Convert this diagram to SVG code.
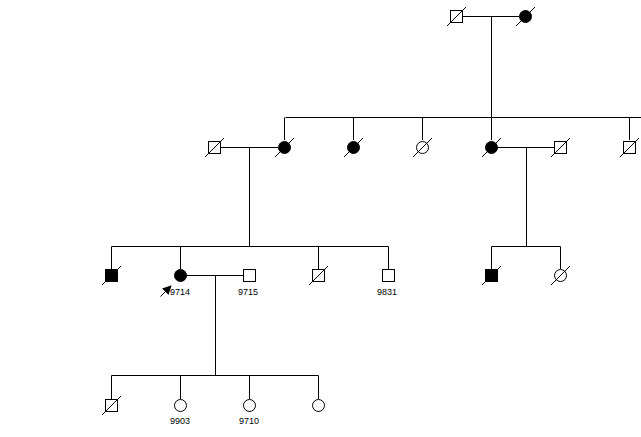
<svg xmlns="http://www.w3.org/2000/svg" width="641" height="437" viewBox="0 0 641 437">
<style>
.ln{stroke:#000;stroke-width:1;fill:none}
.o{fill:#fff;stroke:#000;stroke-width:1}
.f{fill:#000;stroke:#000;stroke-width:1}
.d{stroke:#000;stroke-width:1}
text{font-family:"Liberation Sans",Arial,sans-serif;font-size:9px;fill:#000;text-anchor:middle}
</style>
<defs>
<marker id="ah" viewBox="0 0 10 10" refX="9" refY="5" markerWidth="9" markerHeight="9" orient="auto" markerUnits="userSpaceOnUse"><path d="M0,0 L10,5 L0,10 z" fill="#000"/></marker>
</defs>
<rect width="641" height="437" fill="#fff"/>
<g id="connectors">
<path class="ln" d="M462.5,16.5H519M491.5,16.5V117.5M285.5,117.5H641M284.5,117.5V140M353.5,117.5V140M422.5,117.5V140M491.5,117.5V140M629.5,117.5V140"/>
<path class="ln" d="M220.5,147.5H278M249.5,147.5V246.5M111.5,246.5H388.5M111.5,246.5V269M180.5,246.5V269M318.5,246.5V269M388.5,246.5V269"/>
<path class="ln" d="M497,147.5H554M526.5,147.5V246.5M491.5,246.5H560.5M491.5,246.5V269M560.5,246.5V269"/>
<path class="ln" d="M186,275.5H243M215.5,275.5V375.5M111.5,375.5H318.5M111.5,375.5V399M180.5,375.5V399M249.5,375.5V399M318.5,375.5V399"/>
</g>
<g id="n-gf"><rect class="o" x="450.5" y="10.5" width="12" height="12"/><line class="d" x1="447" y1="26" x2="466" y2="7"/></g>
<g id="n-gm"><circle class="f" cx="525.5" cy="16.5" r="6"/><line class="d" x1="516" y1="26" x2="535" y2="7"/></g>
<g id="n-214"><rect class="o" x="208.5" y="141.5" width="12" height="12"/><line class="d" x1="205" y1="157" x2="224" y2="138"/></g>
<g id="n-284"><circle class="f" cx="284.5" cy="147.5" r="6"/><line class="d" x1="275" y1="157" x2="294" y2="138"/></g>
<g id="n-353"><circle class="f" cx="353.5" cy="147.5" r="6"/><line class="d" x1="344" y1="157" x2="363" y2="138"/></g>
<g id="n-422"><circle class="o" cx="422.5" cy="147.5" r="6"/><line class="d" x1="413" y1="157" x2="432" y2="138"/></g>
<g id="n-491"><circle class="f" cx="491.5" cy="147.5" r="6"/><line class="d" x1="482" y1="157" x2="501" y2="138"/></g>
<g id="n-560"><rect class="o" x="554.5" y="141.5" width="12" height="12"/><line class="d" x1="551" y1="157" x2="570" y2="138"/></g>
<g id="n-629"><rect class="o" x="623.5" y="141.5" width="12" height="12"/><line class="d" x1="620" y1="157" x2="639" y2="138"/></g>
<g id="n-111"><rect class="f" x="105.5" y="269.5" width="12" height="12"/><line class="d" x1="102" y1="285" x2="121" y2="266"/></g>
<g id="n-9714"><circle class="f" cx="180.5" cy="275.5" r="6"/><line class="ln" x1="160.5" y1="296.5" x2="171" y2="286" stroke-width="1.5" marker-end="url(#ah)"/><text x="180" y="295">9714</text></g>
<g id="n-9715"><rect class="o" x="243.5" y="269.5" width="12" height="12"/><text x="248" y="295">9715</text></g>
<g id="n-318"><rect class="o" x="312.5" y="269.5" width="12" height="12"/><line class="d" x1="309" y1="285" x2="328" y2="266"/></g>
<g id="n-9831"><rect class="o" x="382.5" y="269.5" width="12" height="12"/><text x="387" y="295">9831</text></g>
<g id="n-491c"><rect class="f" x="485.5" y="269.5" width="12" height="12"/><line class="d" x1="482" y1="285" x2="501" y2="266"/></g>
<g id="n-560c"><circle class="o" cx="560.5" cy="275.5" r="6"/><line class="d" x1="551" y1="285" x2="570" y2="266"/></g>
<g id="n-111b"><rect class="o" x="105.5" y="399.5" width="12" height="12"/><line class="d" x1="102" y1="415" x2="121" y2="396"/></g>
<g id="n-9903"><circle class="o" cx="180.5" cy="405.5" r="6"/><text x="180" y="424">9903</text></g>
<g id="n-9710"><circle class="o" cx="249.5" cy="405.5" r="6"/><text x="249" y="424">9710</text></g>
<g id="n-318b"><circle class="o" cx="318.5" cy="405.5" r="6"/></g>
</svg>
